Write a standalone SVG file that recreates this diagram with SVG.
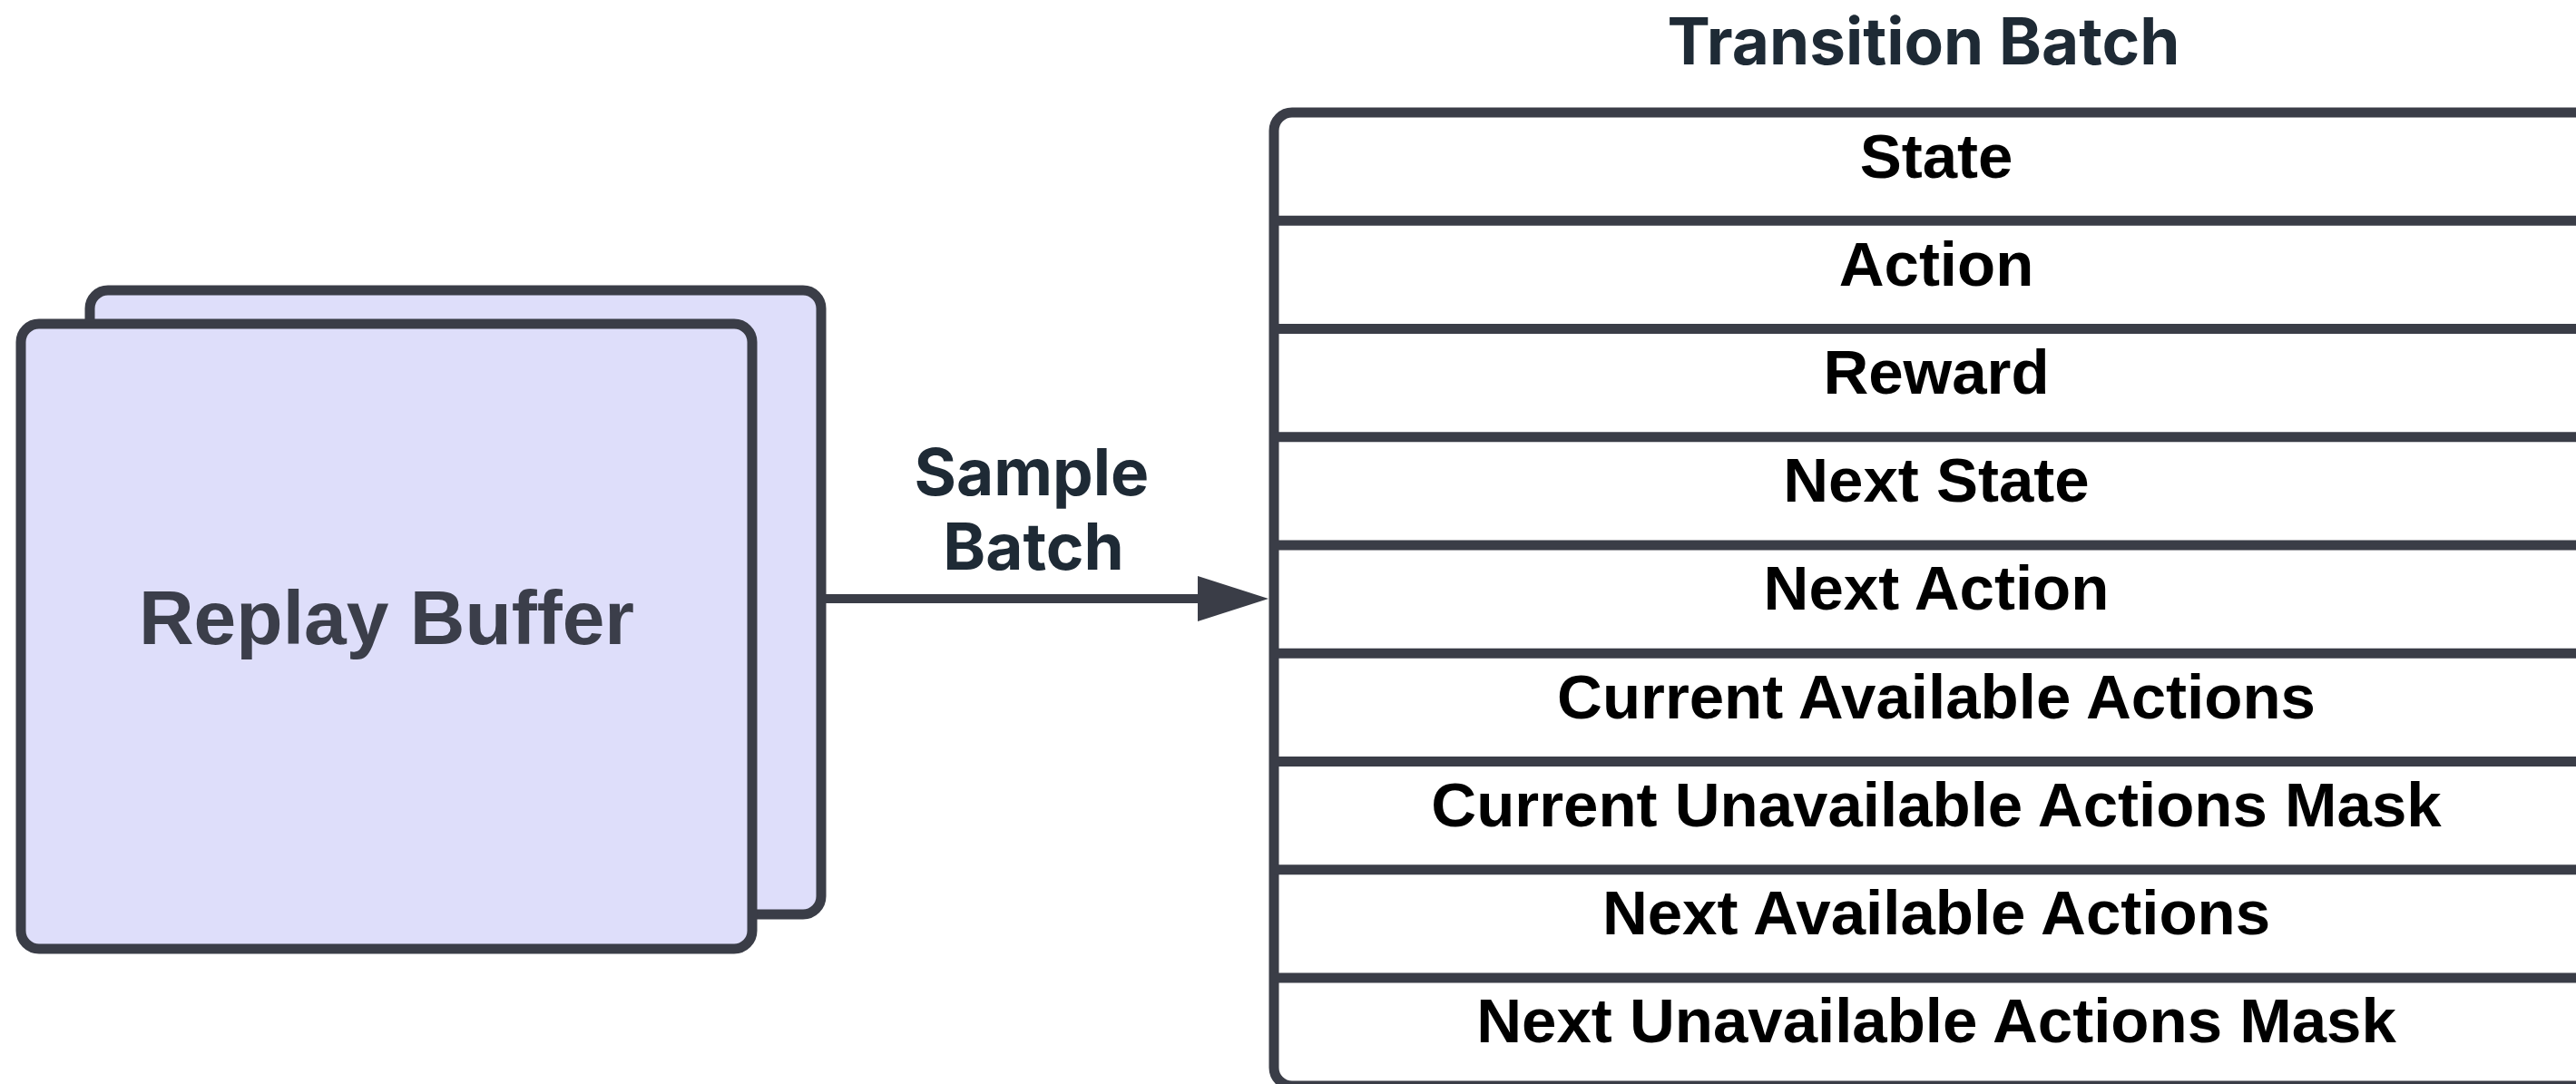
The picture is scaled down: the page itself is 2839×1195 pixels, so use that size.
<svg xmlns="http://www.w3.org/2000/svg" width="2839" height="1195" viewBox="0 0 2839 1195">
  <defs>
    <style>
      .card { fill: #dedefa; stroke: #3a3d47; stroke-width: 11; }
      .table { fill: #ffffff; stroke: #3a3d47; stroke-width: 11; }
      .rule { stroke: #3a3d47; stroke-width: 11; }
      .edge { stroke: #3a3d47; stroke-width: 10; fill: none; }
      .head { fill: #3a3d47; }
      .store { font-family: "Liberation Sans", Arial, sans-serif; font-weight: 700; font-size: 84px; fill: #3b3e4a; text-anchor: middle; }
      .caption { font-family: Inter, "Noto Sans", sans-serif; font-weight: 700; font-size: 71px; fill: #1e2a35; text-anchor: middle; }
      .field { font-family: "Liberation Sans", Arial, sans-serif; font-weight: 700; font-size: 69px; fill: #000000; text-anchor: middle; }
    </style>
  </defs>
  <rect width="2839" height="1195" fill="#ffffff"/>

  <!-- stacked buffer cards -->
  <g id="replay-buffer">
    <rect class="card" x="99" y="320" width="806" height="688" rx="20"/>
    <rect class="card" x="23" y="357" width="806" height="689" rx="20"/>
    <text class="store" x="426" y="710">Replay Buffer</text>
  </g>

  <!-- sampling connector -->
  <g id="connectors">
    <line class="edge" x1="908" y1="660" x2="1325" y2="660"/>
    <polygon class="head" points="1320,635 1398,660 1320,685"/>
    <text class="caption" x="1137" y="546">Sample</text>
    <text class="caption" x="1139" y="628">Batch</text>
  </g>

  <!-- batch table, extends past the right edge -->
  <g id="transition-batch">
    <text class="caption" x="2120" y="71">Transition Batch</text>
    <rect class="table" x="1404" y="124" width="1480" height="1073" rx="20"/>
    <line class="rule" x1="1404" y1="243.25" x2="2860" y2="243.25"/>
    <line class="rule" x1="1404" y1="362.5" x2="2860" y2="362.5"/>
    <line class="rule" x1="1404" y1="481.75" x2="2860" y2="481.75"/>
    <line class="rule" x1="1404" y1="601" x2="2860" y2="601"/>
    <line class="rule" x1="1404" y1="720.25" x2="2860" y2="720.25"/>
    <line class="rule" x1="1404" y1="839.5" x2="2860" y2="839.5"/>
    <line class="rule" x1="1404" y1="958.75" x2="2860" y2="958.75"/>
    <line class="rule" x1="1404" y1="1078" x2="2860" y2="1078"/>
    <text class="field" x="2134" y="196">State</text>
    <text class="field" x="2134" y="315">Action</text>
    <text class="field" x="2134" y="434">Reward</text>
    <text class="field" x="2134" y="553">Next State</text>
    <text class="field" x="2134" y="672">Next Action</text>
    <text class="field" x="2134" y="792">Current Available Actions</text>
    <text class="field" x="2134" y="911">Current Unavailable Actions Mask</text>
    <text class="field" x="2134" y="1030">Next Available Actions</text>
    <text class="field" x="2134" y="1149">Next Unavailable Actions Mask</text>
  </g>
</svg>
